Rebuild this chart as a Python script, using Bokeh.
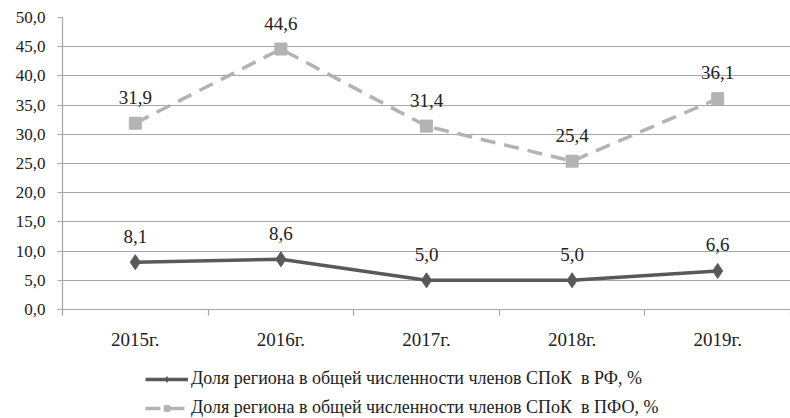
from bokeh.plotting import figure
from bokeh.layouts import column
from bokeh.models import Range1d, FixedTicker, Legend, LegendItem, ColumnDataSource
from bokeh.core.properties import value
from bokeh.embed import file_html
from bokeh.resources import INLINE

years = ["2015г.", "2016г.", "2017г.", "2018г.", "2019г."]
rf = [8.1, 8.6, 5.0, 5.0, 6.6]
pfo = [31.9, 44.6, 31.4, 25.4, 36.1]
y_ticks = [0, 5, 10, 15, 20, 25, 30, 35, 40, 45, 50]
name_rf = "Доля региона в общей численности членов СПоК  в РФ, %"
name_pfo = "Доля региона в общей численности членов СПоК  в ПФО, %"

FONT = "Liberation Serif"
xs = list(range(len(years)))

p = figure(width=790, height=360, output_backend="svg", toolbar_location=None,
           x_range=Range1d(-0.5, len(years) - 0.5), y_range=Range1d(0, 50),
           min_border_left=62, min_border_right=0, min_border_top=17, min_border_bottom=51)
p.outline_line_color = None
p.background_fill_color = "white"

p.xgrid.visible = False
p.ygrid.grid_line_color = "#a6a6a6"
p.ygrid.grid_line_width = 1.2

p.yaxis.ticker = FixedTicker(ticks=y_ticks)
p.yaxis.major_label_overrides = {t: f"{t:.1f}".replace(".", ",") for t in y_ticks}
p.yaxis.axis_line_color = "#a6a6a6"
p.yaxis.axis_line_width = 1.2
p.yaxis.major_tick_out = 5
p.yaxis.major_tick_in = 0
p.yaxis.major_tick_line_color = "#a6a6a6"
p.yaxis.minor_tick_line_color = None
p.yaxis.major_label_text_font = FONT
p.yaxis.major_label_text_font_size = "17px"
p.yaxis.major_label_text_color = "#222222"
p.yaxis.major_label_standoff = 12

p.xaxis.ticker = FixedTicker(ticks=xs, minor_ticks=[i - 0.5 for i in range(len(years) + 1)])
p.xaxis.major_label_overrides = {i: y for i, y in enumerate(years)}
p.xaxis.axis_line_color = "#a6a6a6"
p.xaxis.axis_line_width = 1.2
p.xaxis.major_tick_line_color = None
p.xaxis.minor_tick_out = 6
p.xaxis.minor_tick_in = 0
p.xaxis.minor_tick_line_color = "#a6a6a6"
p.xaxis.minor_tick_line_width = 1.2
p.xaxis.major_label_text_font = FONT
p.xaxis.major_label_text_font_size = "19px"
p.xaxis.major_label_text_color = "#222222"
p.xaxis.major_label_standoff = 13

src = ColumnDataSource(dict(x=xs, rf=rf, pfo=pfo,
                            rf_l=[f"{v:.1f}".replace(".", ",") for v in rf],
                            pfo_l=[f"{v:.1f}".replace(".", ",") for v in pfo]))

c_rf = "#595959"
c_pfo = "#b3b3b3"


def draw(fig):
    a = fig.line("x", "rf", source=src, line_color=c_rf, line_width=3.5)
    b = fig.scatter("x", "rf", source=src, marker="diamond", size=15, fill_color=c_rf, line_color=c_rf)
    c = fig.line("x", "pfo", source=src, line_color=c_pfo, line_width=3.5, line_dash="15 9")
    d = fig.scatter("x", "pfo", source=src, marker="square", size=12, fill_color=c_pfo, line_color=c_pfo)
    return a, b, c, d


draw(p)
for col, lab in (("rf", "rf_l"), ("pfo", "pfo_l")):
    p.text("x", col, text=lab, source=src, text_font=value(FONT), text_font_size="19px",
           text_color="#222222", text_align="center", text_baseline="middle", y_offset=-26)

# legend strip below the chart (its own renderers are kept outside its view)
lf = figure(width=790, height=58, output_backend="svg", toolbar_location=None,
            x_range=Range1d(-20, -19), y_range=Range1d(-20, -19),
            min_border=0, x_axis_type=None, y_axis_type=None)
lf.outline_line_color = None
lf.xgrid.visible = False
lf.ygrid.visible = False
a, b, c, d = draw(lf)
legend = Legend(items=[LegendItem(label=name_rf, renderers=[a, b]),
                       LegendItem(label=name_pfo, renderers=[c, d])],
                location=(83, 0), orientation="vertical",
                label_text_font=FONT, label_text_font_size="18px", label_text_color="#222222",
                glyph_width=43, glyph_height=14, spacing=8, padding=0, margin=0,
                label_standoff=3, border_line_color=None, background_fill_alpha=0)
lf.add_layout(legend, "center")

open("out.html", "w").write(file_html(column(p, lf, spacing=0), INLINE))
